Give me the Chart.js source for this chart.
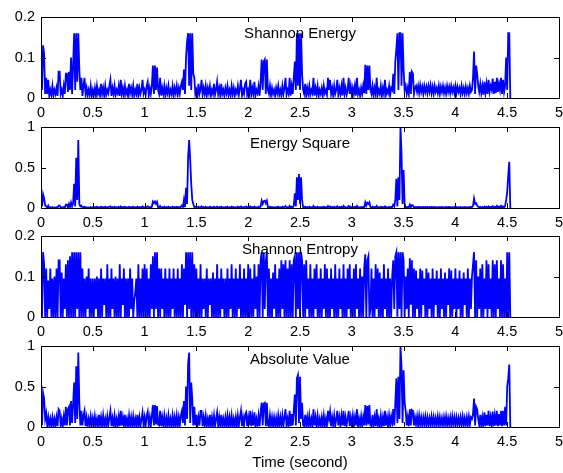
<!DOCTYPE html>
<html>
<head>
<meta charset="utf-8">
<title>Envelope comparison</title>
<script src="https://cdn.jsdelivr.net/npm/chart.js@4.4.0/dist/chart.umd.min.js"></script>
<style>
  html, body { margin: 0; padding: 0; background: #fff; overflow: hidden; }
  #wrap { position: relative; width: 563px; height: 473px; }
  #wrap canvas { position: absolute; left: 0; }
</style>
</head>
<body>
<div id="wrap">
  <canvas id="p0" width="563" height="113"></canvas>
  <canvas id="p1" width="563" height="113"></canvas>
  <canvas id="p2" width="563" height="113"></canvas>
  <canvas id="p3" width="563" height="139"></canvas>
</div>
<script>
// sample period of the envelope traces (seconds)
const sampleStep = 0.01;

const timeTicks = [0, 0.5, 1, 1.5, 2, 2.5, 3, 3.5, 4, 4.5, 5];
const smallTicks = [0, 0.1, 0.2];
const unitTicks = [0, 0.5, 1];

const panelTitles = ['Shannon Energy', 'Energy Square', 'Shannon Entropy', 'Absolute Value'];

// 10 samples per line, 0.5 s per block
const shannonEnergy = [
  0.12, 0.02, 0.13, 0.11, 0.01, 0.05, 0.01, 0.045, 0.005, 0.02,
  0.008, 0.03, 0.005, 0.02, 0.01, 0.025, 0.005, 0.065, 0.065, 0.01,
  0.02, 0.005, 0.03, 0.01, 0.06, 0.06, 0.015, 0.065, 0.02, 0.1,
  0.01, 0.08, 0.16, 0.02, 0.16, 0.04, 0.16, 0.07, 0.02, 0.05,
  0.005, 0.03, 0.05, 0.01, 0.025, 0.005, 0.02, 0.008, 0.03, 0.005,

  0.02, 0.008, 0.025, 0.005, 0.03, 0.01, 0.02, 0.006, 0.035, 0.01,
  0.025, 0.005, 0.03, 0.008, 0.02, 0.012, 0.03, 0.045, 0.005, 0.025,
  0.01, 0.03, 0.006, 0.02, 0.012, 0.03, 0.005, 0.045, 0.01, 0.025,
  0.006, 0.03, 0.01, 0.02, 0.005, 0.035, 0.012, 0.025, 0.008, 0.03,
  0.005, 0.02, 0.01, 0.035, 0.006, 0.025, 0.01, 0.02, 0.045, 0.01,

  0.02, 0.008, 0.03, 0.04, 0.006, 0.025, 0.01, 0.03, 0.08, 0.01,
  0.08, 0.02, 0.075, 0.02, 0.01, 0.05, 0.006, 0.025, 0.01, 0.03,
  0.005, 0.025, 0.012, 0.03, 0.006, 0.02, 0.01, 0.03, 0.005, 0.025,
  0.012, 0.03, 0.008, 0.025, 0.01, 0.03, 0.04, 0.02, 0.07, 0.01,
  0.1, 0.14, 0.16, 0.03, 0.16, 0.02, 0.16, 0.06, 0.05, 0.01,

  0.02, 0.006, 0.035, 0.01, 0.02, 0.045, 0.008, 0.025, 0.01, 0.03,
  0.006, 0.025, 0.012, 0.03, 0.005, 0.02, 0.01, 0.035, 0.008, 0.02,
  0.04, 0.01, 0.025, 0.006, 0.035, 0.01, 0.02, 0.005, 0.025, 0.012,
  0.03, 0.008, 0.02, 0.006, 0.03, 0.01, 0.025, 0.005, 0.02, 0.012,
  0.03, 0.008, 0.025, 0.045, 0.006, 0.02, 0.01, 0.035, 0.04, 0.008,

  0.02, 0.01, 0.045, 0.008, 0.025, 0.01, 0.04, 0.006, 0.02, 0.012,
  0.03, 0.006, 0.04, 0.095, 0.02, 0.09, 0.095, 0.01, 0.095, 0.02,
  0.01, 0.03, 0.006, 0.025, 0.01, 0.02, 0.005, 0.025, 0.012, 0.03,
  0.008, 0.02, 0.006, 0.03, 0.01, 0.025, 0.05, 0.008, 0.02, 0.01,
  0.05, 0.006, 0.03, 0.01, 0.05, 0.09, 0.02, 0.16, 0.03, 0.16,

  0.02, 0.16, 0.06, 0.02, 0.01, 0.035, 0.006, 0.025, 0.01, 0.03,
  0.008, 0.02, 0.012, 0.05, 0.006, 0.025, 0.01, 0.03, 0.005, 0.02,
  0.01, 0.025, 0.006, 0.03, 0.012, 0.02, 0.008, 0.05, 0.02, 0.045,
  0.01, 0.025, 0.006, 0.03, 0.01, 0.02, 0.045, 0.008, 0.025, 0.01,
  0.03, 0.006, 0.05, 0.01, 0.025, 0.008, 0.02, 0.05, 0.01, 0.03,

  0.008, 0.025, 0.01, 0.03, 0.006, 0.05, 0.01, 0.02, 0.005, 0.025,
  0.01, 0.03, 0.012, 0.082, 0.01, 0.08, 0.02, 0.08, 0.02, 0.01,
  0.03, 0.006, 0.025, 0.01, 0.05, 0.008, 0.02, 0.01, 0.03, 0.005,
  0.025, 0.01, 0.045, 0.008, 0.02, 0.012, 0.03, 0.006, 0.025, 0.02,
  0.06, 0.01, 0.09, 0.12, 0.16, 0.02, 0.16, 0.16, 0.03, 0.16,

  0.07, 0.02, 0.03, 0.01, 0.025, 0.01, 0.065, 0.01, 0.065, 0.06,
  0.01, 0.025, 0.03, 0.015, 0.03, 0.012, 0.032, 0.015, 0.028, 0.01,
  0.03, 0.015, 0.028, 0.012, 0.03, 0.015, 0.032, 0.012, 0.028, 0.01,
  0.03, 0.015, 0.025, 0.012, 0.03, 0.01, 0.028, 0.015, 0.03, 0.012,
  0.026, 0.01, 0.03, 0.015, 0.028, 0.012, 0.03, 0.015, 0.026, 0.012,

  0.03, 0.012, 0.028, 0.015, 0.025, 0.01, 0.03, 0.012, 0.025, 0.01,
  0.028, 0.012, 0.025, 0.01, 0.03, 0.015, 0.02, 0.05, 0.115, 0.01,
  0.08, 0.06, 0.03, 0.015, 0.035, 0.012, 0.03, 0.008, 0.04, 0.012,
  0.035, 0.01, 0.045, 0.015, 0.03, 0.02, 0.048, 0.01, 0.04, 0.012,
  0.05, 0.015, 0.035, 0.02, 0.05, 0.01, 0.045, 0.015, 0.03, 0.1,

  0.02, 0.16, 0.16, 0
];

const energySquare = [
  0.14, 0.02, 0.17, 0.12, 0.03, 0.02, 0.005, 0.03, 0.004, 0.01,
  0.003, 0.012, 0.004, 0.008, 0.003, 0.01, 0.004, 0.03, 0.03, 0.005,
  0.01, 0.003, 0.012, 0.005, 0.04, 0.04, 0.006, 0.05, 0.01, 0.07,
  0.02, 0.06, 0.3, 0.02, 0.62, 0.1, 0.84, 0.05, 0.02, 0.03,
  0.005, 0.01, 0.015, 0.004, 0.01, 0.003, 0.008, 0.004, 0.012, 0.003,

  0.01, 0.004, 0.012, 0.003, 0.015, 0.005, 0.01, 0.003, 0.015, 0.005,
  0.012, 0.003, 0.015, 0.004, 0.01, 0.006, 0.015, 0.02, 0.003, 0.012,
  0.005, 0.015, 0.003, 0.01, 0.006, 0.015, 0.003, 0.02, 0.005, 0.012,
  0.003, 0.015, 0.005, 0.01, 0.003, 0.015, 0.006, 0.012, 0.004, 0.015,
  0.003, 0.01, 0.005, 0.015, 0.003, 0.012, 0.005, 0.01, 0.02, 0.004,

  0.01, 0.004, 0.015, 0.02, 0.004, 0.012, 0.005, 0.015, 0.08, 0.06,
  0.08, 0.05, 0.075, 0.01, 0.005, 0.025, 0.003, 0.012, 0.005, 0.015,
  0.003, 0.012, 0.005, 0.015, 0.003, 0.01, 0.005, 0.015, 0.003, 0.012,
  0.006, 0.015, 0.004, 0.012, 0.005, 0.015, 0.03, 0.01, 0.1, 0.01,
  0.25, 0.05, 0.62, 0.84, 0.6, 0.3, 0.1, 0.05, 0.01, 0.015,

  0.01, 0.004, 0.015, 0.005, 0.01, 0.02, 0.004, 0.012, 0.003, 0.015,
  0.005, 0.01, 0.003, 0.015, 0.004, 0.01, 0.005, 0.015, 0.003, 0.01,
  0.018, 0.005, 0.012, 0.003, 0.015, 0.005, 0.01, 0.003, 0.012, 0.005,
  0.015, 0.003, 0.01, 0.004, 0.015, 0.005, 0.012, 0.003, 0.01, 0.005,
  0.015, 0.004, 0.012, 0.02, 0.003, 0.01, 0.005, 0.015, 0.018, 0.004,

  0.01, 0.005, 0.02, 0.004, 0.012, 0.005, 0.018, 0.003, 0.01, 0.005,
  0.015, 0.003, 0.02, 0.09, 0.05, 0.085, 0.09, 0.06, 0.09, 0.01,
  0.005, 0.015, 0.003, 0.012, 0.005, 0.01, 0.003, 0.012, 0.005, 0.015,
  0.004, 0.01, 0.003, 0.015, 0.005, 0.012, 0.025, 0.004, 0.01, 0.005,
  0.025, 0.003, 0.015, 0.005, 0.03, 0.18, 0.02, 0.38, 0.1, 0.42,

  0.05, 0.38, 0.1, 0.01, 0.005, 0.015, 0.003, 0.012, 0.005, 0.015,
  0.004, 0.01, 0.005, 0.025, 0.003, 0.012, 0.005, 0.015, 0.003, 0.01,
  0.005, 0.012, 0.003, 0.015, 0.005, 0.01, 0.004, 0.025, 0.01, 0.02,
  0.005, 0.012, 0.003, 0.015, 0.005, 0.01, 0.02, 0.004, 0.012, 0.005,
  0.015, 0.003, 0.025, 0.005, 0.012, 0.004, 0.01, 0.025, 0.005, 0.015,

  0.004, 0.012, 0.005, 0.015, 0.003, 0.025, 0.005, 0.01, 0.003, 0.012,
  0.005, 0.015, 0.006, 0.07, 0.03, 0.065, 0.05, 0.07, 0.01, 0.005,
  0.015, 0.003, 0.012, 0.005, 0.025, 0.004, 0.01, 0.005, 0.015, 0.003,
  0.012, 0.005, 0.02, 0.004, 0.01, 0.006, 0.015, 0.003, 0.012, 0.01,
  0.04, 0.02, 0.1, 0.36, 0.02, 0.38, 0.1, 1.0, 0.67, 0.05,

  0.47, 0.05, 0.01, 0.005, 0.012, 0.005, 0.04, 0.01, 0.035, 0.03,
  0.005, 0.012, 0.006, 0.012, 0.007, 0.014, 0.006, 0.012, 0.005, 0.012,
  0.007, 0.012, 0.005, 0.013, 0.006, 0.012, 0.005, 0.014, 0.007, 0.012,
  0.005, 0.012, 0.006, 0.01, 0.005, 0.013, 0.006, 0.012, 0.005, 0.01,
  0.006, 0.012, 0.005, 0.013, 0.007, 0.012, 0.005, 0.01, 0.006, 0.012,

  0.005, 0.012, 0.006, 0.01, 0.005, 0.012, 0.004, 0.01, 0.006, 0.013,
  0.005, 0.01, 0.004, 0.012, 0.005, 0.013, 0.01, 0.025, 0.115, 0.05,
  0.06, 0.03, 0.015, 0.006, 0.015, 0.004, 0.012, 0.005, 0.018, 0.004,
  0.015, 0.005, 0.02, 0.006, 0.012, 0.008, 0.022, 0.005, 0.015, 0.006,
  0.025, 0.005, 0.018, 0.008, 0.025, 0.004, 0.02, 0.008, 0.025, 0.1,

  0.2, 0.4, 0.57, 0
];

const shannonEntropy = [
  0.16, 0.0, 0.16, 0.13, 0.0, 0.12, 0.0, 0.09, 0.02, 0.12,
  0.0, 0.095, 0.0, 0.1, 0.0, 0.12, 0.0, 0.14, 0.14, 0.0,
  0.11, 0.0, 0.095, 0.02, 0.13, 0.0, 0.14, 0.0, 0.15, 0.0,
  0.16, 0.0, 0.16, 0.0, 0.16, 0.02, 0.16, 0.0, 0.16, 0.0,
  0.12, 0.0, 0.095, 0.0, 0.1, 0.02, 0.12, 0.0, 0.095, 0.0,

  0.095, 0.0, 0.095, 0.02, 0.1, 0.0, 0.095, 0.0, 0.12, 0.0,
  0.095, 0.03, 0.095, 0.0, 0.13, 0.0, 0.095, 0.0, 0.12, 0.02,
  0.095, 0.0, 0.1, 0.0, 0.095, 0.0, 0.13, 0.0, 0.095, 0.03,
  0.12, 0.0, 0.095, 0.0, 0.095, 0.0, 0.12, 0.02, 0.095, 0.0,
  0.04, 0.06, 0.095, 0.0, 0.13, 0.0, 0.095, 0.0, 0.12, 0.0,

  0.13, 0.0, 0.12, 0.0, 0.095, 0.0, 0.13, 0.02, 0.15, 0.0,
  0.16, 0.02, 0.16, 0.0, 0.12, 0.0, 0.12, 0.02, 0.095, 0.0,
  0.12, 0.0, 0.095, 0.0, 0.12, 0.0, 0.095, 0.02, 0.12, 0.0,
  0.095, 0.0, 0.12, 0.0, 0.095, 0.0, 0.13, 0.0, 0.12, 0.03,
  0.16, 0.0, 0.16, 0.02, 0.16, 0.0, 0.16, 0.0, 0.13, 0.0,

  0.12, 0.0, 0.095, 0.0, 0.13, 0.0, 0.095, 0.02, 0.095, 0.0,
  0.12, 0.0, 0.095, 0.03, 0.095, 0.0, 0.11, 0.0, 0.095, 0.0,
  0.13, 0.0, 0.095, 0.0, 0.12, 0.02, 0.095, 0.0, 0.095, 0.0,
  0.12, 0.0, 0.095, 0.02, 0.13, 0.0, 0.095, 0.0, 0.12, 0.0,
  0.095, 0.02, 0.13, 0.0, 0.095, 0.0, 0.12, 0.0, 0.095, 0.0,

  0.13, 0.0, 0.12, 0.0, 0.095, 0.0, 0.13, 0.02, 0.1, 0.0,
  0.13, 0.0, 0.14, 0.16, 0.0, 0.16, 0.02, 0.14, 0.16, 0.0,
  0.12, 0.0, 0.095, 0.0, 0.11, 0.02, 0.13, 0.0, 0.095, 0.0,
  0.12, 0.0, 0.14, 0.02, 0.13, 0.0, 0.14, 0.0, 0.12, 0.0,
  0.14, 0.0, 0.13, 0.0, 0.14, 0.15, 0.0, 0.16, 0.02, 0.16,

  0.0, 0.16, 0.14, 0.0, 0.13, 0.0, 0.14, 0.02, 0.095, 0.0,
  0.13, 0.0, 0.095, 0.0, 0.12, 0.02, 0.13, 0.0, 0.095, 0.0,
  0.12, 0.0, 0.095, 0.02, 0.13, 0.0, 0.12, 0.0, 0.095, 0.0,
  0.12, 0.02, 0.095, 0.0, 0.13, 0.0, 0.095, 0.0, 0.12, 0.02,
  0.095, 0.0, 0.13, 0.0, 0.095, 0.0, 0.12, 0.02, 0.13, 0.0,

  0.095, 0.0, 0.12, 0.0, 0.13, 0.02, 0.095, 0.0, 0.12, 0.0,
  0.1, 0.0, 0.12, 0.155, 0.0, 0.14, 0.15, 0.0, 0.02, 0.12,
  0.0, 0.095, 0.0, 0.13, 0.02, 0.12, 0.0, 0.11, 0.0, 0.095,
  0.0, 0.13, 0.02, 0.095, 0.0, 0.12, 0.0, 0.095, 0.0, 0.1,
  0.14, 0.02, 0.15, 0.16, 0.0, 0.16, 0.02, 0.16, 0.0, 0.16,

  0.14, 0.0, 0.1, 0.02, 0.12, 0.0, 0.145, 0.03, 0.14, 0.0,
  0.12, 0.0, 0.115, 0.02, 0.095, 0.0, 0.12, 0.0, 0.115, 0.03,
  0.095, 0.0, 0.12, 0.0, 0.11, 0.02, 0.095, 0.0, 0.12, 0.0,
  0.095, 0.03, 0.115, 0.0, 0.095, 0.0, 0.12, 0.02, 0.095, 0.0,
  0.11, 0.0, 0.095, 0.03, 0.12, 0.0, 0.115, 0.0, 0.095, 0.02,

  0.12, 0.0, 0.095, 0.02, 0.115, 0.0, 0.095, 0.0, 0.11, 0.03,
  0.095, 0.0, 0.12, 0.0, 0.095, 0.02, 0.1, 0.13, 0.16, 0.0,
  0.14, 0.0, 0.1, 0.02, 0.12, 0.0, 0.13, 0.0, 0.095, 0.02,
  0.14, 0.0, 0.13, 0.02, 0.095, 0.0, 0.14, 0.0, 0.13, 0.0,
  0.14, 0.02, 0.095, 0.0, 0.14, 0.0, 0.13, 0.0, 0.095, 0.0,

  0.16, 0.0, 0.16, 0
];

const absoluteValue = [
  0.4, 0.02, 0.42, 0.35, 0.1, 0.17, 0.02, 0.12, 0.01, 0.1,
  0.02, 0.12, 0.01, 0.1, 0.02, 0.12, 0.01, 0.22, 0.2, 0.02,
  0.1, 0.01, 0.13, 0.02, 0.25, 0.02, 0.22, 0.25, 0.02, 0.32,
  0.05, 0.28, 0.55, 0.05, 0.75, 0.1, 0.92, 0.3, 0.02, 0.2,
  0.02, 0.14, 0.2, 0.01, 0.12, 0.02, 0.1, 0.01, 0.13, 0.02,

  0.11, 0.01, 0.13, 0.02, 0.1, 0.01, 0.15, 0.02, 0.12, 0.01,
  0.14, 0.02, 0.1, 0.01, 0.13, 0.02, 0.12, 0.2, 0.01, 0.11,
  0.02, 0.14, 0.01, 0.1, 0.02, 0.13, 0.01, 0.2, 0.02, 0.12,
  0.01, 0.15, 0.02, 0.1, 0.01, 0.14, 0.02, 0.12, 0.01, 0.13,
  0.02, 0.1, 0.01, 0.15, 0.02, 0.12, 0.01, 0.1, 0.18, 0.02,

  0.12, 0.01, 0.14, 0.19, 0.02, 0.12, 0.01, 0.14, 0.27, 0.02,
  0.27, 0.03, 0.26, 0.03, 0.02, 0.2, 0.01, 0.12, 0.02, 0.14,
  0.01, 0.11, 0.02, 0.14, 0.01, 0.1, 0.02, 0.14, 0.01, 0.12,
  0.02, 0.14, 0.01, 0.12, 0.02, 0.14, 0.2, 0.05, 0.32, 0.02,
  0.5, 0.1, 0.78, 0.92, 0.05, 0.55, 0.35, 0.02, 0.25, 0.02,

  0.15, 0.01, 0.12, 0.02, 0.2, 0.2, 0.01, 0.12, 0.02, 0.14,
  0.01, 0.1, 0.02, 0.15, 0.01, 0.12, 0.02, 0.14, 0.01, 0.1,
  0.18, 0.02, 0.12, 0.01, 0.15, 0.02, 0.1, 0.01, 0.12, 0.02,
  0.14, 0.01, 0.12, 0.02, 0.14, 0.01, 0.1, 0.02, 0.12, 0.01,
  0.14, 0.02, 0.12, 0.2, 0.01, 0.12, 0.02, 0.15, 0.18, 0.01,

  0.12, 0.02, 0.2, 0.01, 0.13, 0.02, 0.18, 0.01, 0.1, 0.02,
  0.14, 0.01, 0.18, 0.3, 0.02, 0.29, 0.3, 0.01, 0.3, 0.02,
  0.01, 0.14, 0.02, 0.12, 0.01, 0.12, 0.02, 0.11, 0.01, 0.14,
  0.02, 0.12, 0.01, 0.14, 0.02, 0.12, 0.22, 0.01, 0.1, 0.02,
  0.2, 0.01, 0.16, 0.02, 0.2, 0.4, 0.02, 0.6, 0.64, 0.05,

  0.62, 0.1, 0.3, 0.02, 0.01, 0.15, 0.02, 0.12, 0.01, 0.14,
  0.02, 0.1, 0.01, 0.22, 0.02, 0.12, 0.01, 0.14, 0.02, 0.1,
  0.01, 0.12, 0.02, 0.14, 0.01, 0.1, 0.02, 0.2, 0.1, 0.19,
  0.01, 0.12, 0.02, 0.14, 0.01, 0.1, 0.2, 0.02, 0.12, 0.01,
  0.14, 0.02, 0.2, 0.01, 0.12, 0.02, 0.1, 0.2, 0.01, 0.12,

  0.02, 0.14, 0.01, 0.12, 0.02, 0.22, 0.01, 0.1, 0.02, 0.13,
  0.01, 0.12, 0.02, 0.27, 0.02, 0.26, 0.03, 0.27, 0.02, 0.01,
  0.15, 0.02, 0.12, 0.01, 0.22, 0.02, 0.1, 0.01, 0.14, 0.02,
  0.12, 0.01, 0.2, 0.02, 0.12, 0.01, 0.14, 0.02, 0.13, 0.05,
  0.22, 0.02, 0.3, 0.6, 0.05, 0.62, 0.1, 1.0, 0.75, 0.05,

  0.7, 0.3, 0.2, 0.02, 0.12, 0.01, 0.22, 0.02, 0.21, 0.2,
  0.02, 0.12, 0.03, 0.13, 0.02, 0.14, 0.03, 0.12, 0.02, 0.12,
  0.03, 0.13, 0.02, 0.12, 0.03, 0.11, 0.02, 0.13, 0.03, 0.12,
  0.02, 0.11, 0.03, 0.13, 0.02, 0.12, 0.03, 0.11, 0.02, 0.12,
  0.03, 0.13, 0.02, 0.11, 0.03, 0.12, 0.02, 0.13, 0.03, 0.12,

  0.02, 0.12, 0.03, 0.11, 0.02, 0.12, 0.03, 0.13, 0.02, 0.11,
  0.03, 0.12, 0.02, 0.13, 0.03, 0.12, 0.1, 0.16, 0.35, 0.02,
  0.25, 0.22, 0.1, 0.02, 0.15, 0.01, 0.12, 0.02, 0.18, 0.01,
  0.15, 0.02, 0.2, 0.01, 0.12, 0.02, 0.19, 0.01, 0.14, 0.02,
  0.2, 0.01, 0.16, 0.02, 0.2, 0.01, 0.2, 0.02, 0.25, 0.02,

  0.5, 0.6, 0.77, 0
];

const series = [shannonEnergy, energySquare, shannonEntropy, absoluteValue];
const yTicks = [smallTicks, unitTicks, smallTicks, unitTicks];

// layout of the four stacked axes (page pixels)
const plotTop = [17, 127, 236, 346];
const padTop = 12;
const titleOffset = [21, 20.5, 18, 18];

Chart.defaults.font.family = '"Liberation Sans", Arial, Helvetica, sans-serif';
Chart.defaults.font.size = 14.5;
Chart.defaults.color = '#000';

// box around the axes, inward tick marks on all four sides, title inside the box
const axesBox = {
  id: 'axesBox',
  afterDatasetsDraw(chart, args, opts) {
    const { ctx, chartArea: a, scales: { x, y } } = chart;
    const len = 5;
    ctx.save();
    ctx.strokeStyle = '#000';
    ctx.lineWidth = 1;
    ctx.beginPath();
    x.ticks.forEach(t => {
      const px = Math.round(x.getPixelForValue(t.value)) + 0.5;
      ctx.moveTo(px, a.bottom); ctx.lineTo(px, a.bottom - len);
      ctx.moveTo(px, a.top); ctx.lineTo(px, a.top + len);
    });
    y.ticks.forEach(t => {
      const py = Math.round(y.getPixelForValue(t.value)) + 0.5;
      ctx.moveTo(a.left, py); ctx.lineTo(a.left + len, py);
      ctx.moveTo(a.right, py); ctx.lineTo(a.right - len, py);
    });
    ctx.stroke();
    ctx.strokeRect(a.left + 0.5, a.top + 0.5, a.right - a.left, a.bottom - a.top);

    ctx.fillStyle = '#000';
    ctx.font = '15px "Liberation Sans", Arial, sans-serif';
    ctx.textAlign = 'center';
    ctx.textBaseline = 'alphabetic';
    ctx.fillText(opts.text, (a.left + a.right) / 2, a.top + opts.offset);
    ctx.restore();
  }
};

series.forEach((values, k) => {
  const canvas = document.getElementById('p' + k);
  canvas.style.top = (plotTop[k] - padTop) + 'px';
  const last = k === series.length - 1;
  const points = values.map((v, i) => ({ x: +(i * sampleStep).toFixed(2), y: v }));

  new Chart(canvas, {
    type: 'line',
    data: {
      datasets: [{
        data: points,
        borderColor: '#0000ff',
        borderWidth: 1.8,
        borderJoinStyle: 'miter',
        pointRadius: 0,
        tension: 0,
        fill: false
      }]
    },
    options: {
      responsive: false,
      animation: false,
      devicePixelRatio: 1,
      parsing: false,
      layout: { padding: { top: padTop, left: 0, right: 4, bottom: 0 } },
      plugins: {
        legend: { display: false },
        tooltip: { enabled: false },
        axesBox: { text: panelTitles[k], offset: titleOffset[k] }
      },
      scales: {
        x: {
          type: 'linear',
          min: 0,
          max: 5,
          afterBuildTicks: s => { s.ticks = timeTicks.map(v => ({ value: v })); },
          afterFit: s => {
            s.height = last ? 46 : 20;
            s.paddingLeft = 0;
            s.paddingRight = 0;
          },
          grid: { display: false, drawTicks: false },
          border: { display: false },
          ticks: { autoSkip: false, maxRotation: 0, padding: 6, callback: v => String(v) },
          title: {
            display: last,
            text: 'Time (second)',
            font: { size: 15 },
            padding: { top: 0, bottom: 1 }
          }
        },
        y: {
          min: 0,
          max: yTicks[k][yTicks[k].length - 1],
          afterBuildTicks: s => { s.ticks = yTicks[k].map(v => ({ value: v })); },
          afterFit: s => {
            s.width = 41;
            s.paddingTop = 0;
            s.paddingBottom = 0;
          },
          grid: { display: false, drawTicks: false },
          border: { display: false },
          ticks: { padding: 6, callback: v => String(v) }
        }
      }
    },
    plugins: [axesBox]
  });
});
</script>
</body>
</html>
